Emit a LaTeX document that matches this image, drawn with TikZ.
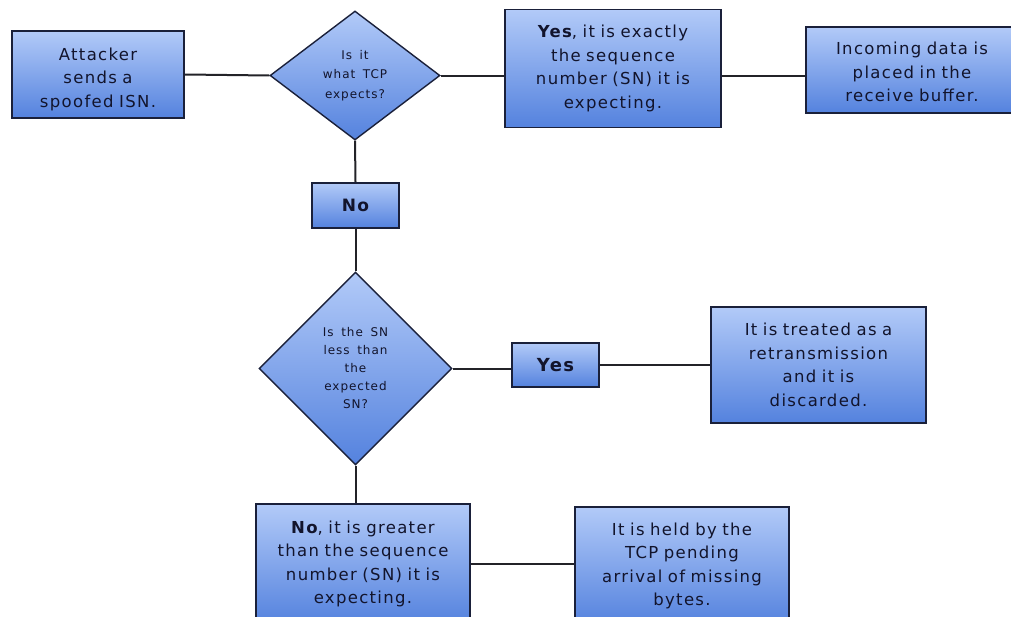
\documentclass[tikz,border=0pt]{standalone}
\usepackage{fontspec}
\setmainfont{DejaVu Sans}[LetterSpace=8,WordSpace=1.6]
\usetikzlibrary{shapes.geometric}

\definecolor{boxtop}{RGB}{178,202,248}
\definecolor{boxbot}{RGB}{84,130,222}
\definecolor{edgecol}{RGB}{26,32,58}
\definecolor{ink}{RGB}{18,20,44}
\definecolor{wirecol}{RGB}{35,35,40}

\begin{document}
\begin{tikzpicture}[x=1pt,y=-1pt,
  flowbox/.style={rectangle, draw=edgecol, line width=1.9pt,
    top color=boxtop, bottom color=boxbot, inner sep=0pt,
    align=center, text=ink, font=\fontsize{16.5}{23.5}\selectfont},
  decision/.style={diamond, draw=edgecol, line width=1.4pt,
    top color=boxtop, bottom color=boxbot, inner sep=0pt,
    align=center, text=ink},
  wire/.style={draw=wirecol, line width=2pt}]

\useasboundingbox (0,0) rectangle (1011,616);

% first row
\node[flowbox, minimum width=172pt, minimum height=87pt, text width=160pt]
  (attacker) at (98,74.5) {\rule{0pt}{22pt}Attacker\\sends a\\spoofed ISN.};
\node[decision, minimum width=170pt, minimum height=129pt,
  font=\fontsize{12}{19.5}\selectfont]
  (check) at (355,75.5) {Is it\\what TCP\\expects?};
\node[flowbox, minimum width=216pt, minimum height=118pt, text width=205pt]
  (exact) at (613,68.5) {\textbf{Yes}, it is exactly\\the sequence\\number (SN) it is\\expecting.};
\node[flowbox, minimum width=212pt, minimum height=86pt, text width=200pt]
  (buffer) at (912,70) {\rule{0pt}{17pt}Incoming data is\\placed in the\\receive buffer.};

% middle column
\node[flowbox, minimum width=87pt, minimum height=45pt,
  font=\fontsize{17}{20}\selectfont\bfseries]
  (no) at (355.5,205.5) {No};
\node[decision, minimum width=193pt, minimum height=193pt,
  font=\fontsize{12}{18}\selectfont]
  (less) at (355.5,368.5) {Is the SN\\less than\\the\\expected\\SN?};
\node[flowbox, minimum width=87pt, minimum height=44pt,
  font=\fontsize{18}{20}\selectfont\bfseries]
  (yes) at (555.5,365) {Yes};
\node[flowbox, minimum width=215pt, minimum height=116pt, text width=205pt]
  (retrans) at (818.5,365) {It is treated as a\\retransmission\\and it is\\discarded.};

% bottom row
\node[flowbox, minimum width=214pt, minimum height=120pt, text width=205pt]
  (greater) at (363,564) {\textbf{No}, it is greater\\than the sequence\\number (SN) it is\\expecting.};
\node[flowbox, minimum width=214pt, minimum height=118pt, text width=205pt]
  (held) at (682,566) {It is held by the\\TCP pending\\arrival of missing\\bytes.};

% connectors
\draw[wire] (attacker.east) -- (check.west);
\draw[wire] (check.east) -- (check.east -| exact.west);
\draw[wire] (exact.east |- check.east) -- (buffer.west |- check.east);
\draw[wire] (check.south) -- (no.north);
\draw[wire] (no.south) -- (less.north);
\draw[wire] (less.east) -- (less.east -| yes.west);
\draw[wire] (yes.east) -- (retrans.west |- yes.east);
\draw[wire] (less.south) -- (less.south |- greater.north);
\draw[wire] (greater.east) -- (held.west |- greater.east);
\end{tikzpicture}
\end{document}
